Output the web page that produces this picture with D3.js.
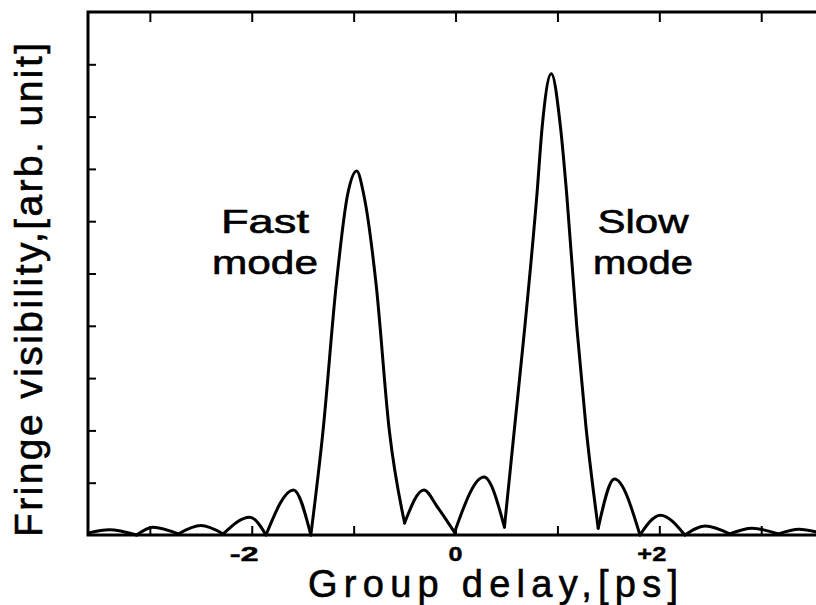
<!DOCTYPE html>
<html>
<head>
<meta charset="utf-8">
<script src="https://cdn.jsdelivr.net/npm/d3@7"></script>
<style>
  html, body { margin: 0; padding: 0; background: #fff; }
  svg { display: block; }
</style>
</head>
<body>
<script>
// trace, lobe by lobe (troughs split the lobes)
const delayPs = [-3.60, -3.40, -3.13, -2.97, -2.72, -2.50, -2.28, -2.02, -1.86, -1.59, -1.42,
  -1.30, -1.17, -1.06, -0.97, -0.90, -0.78, -0.65, -0.50, -0.31, -0.18, -0.01, 0.28, 0.48,
  0.58, 0.68, 0.80, 0.85, 0.94, 1.03, 1.09, 1.19, 1.28, 1.40, 1.56, 1.81, 2.01, 2.25, 2.45,
  2.69, 2.91, 3.17, 3.37, 3.56];
const visibility = [0.04, 0.10, 0.00, 0.15, 0.02, 0.18, 0.02, 0.34, 0.00, 0.86, 0.00,
  2.00, 4.80, 6.50, 6.96, 6.50, 4.80, 2.00, 0.23, 0.86, 0.54, 0.05, 1.11, 0.15,
  2.07, 3.98, 6.54, 7.80, 8.82, 7.80, 6.54, 3.98, 2.07, 0.13, 1.07, 0.00, 0.38, 0.00, 0.17,
  0.02, 0.13, 0.02, 0.11, 0.05];

const xTicks = [-3, -2, -1, 0, 1, 2, 3];
const xLabelValues = [-2, 0, 2];
const xLabelTexts = ['-2', '0', '+2'];
const yTicks = [1, 2, 3, 4, 5, 6, 7, 8, 9];
const modeLabels = [
  { lines: ['Fast', 'mode'], x: -1.87, lens: [88, 106] },
  { lines: ['Slow', 'mode'], x: 1.84, lens: [91, 100] }
];

const width = 816, height = 605;
const margin = { top: 12, right: -3, bottom: 70, left: 88 };

const svg = d3.select('body').append('svg')
  .attr('width', width)
  .attr('height', height)
  .attr('viewBox', `0 0 ${width} ${height}`);

const x = d3.scaleLinear()
  .domain([-3.607, 3.567])
  .range([margin.left, width - margin.right]);

const y = d3.scaleLinear()
  .domain([0, 10])
  .range([height - margin.bottom, margin.top]);

const font = '"Liberation Sans", Arial, Helvetica, sans-serif';

// axes with inward ticks, frame drawn separately
svg.append('g')
  .attr('transform', `translate(0,${y(0)})`)
  .call(d3.axisBottom(x).tickValues(xTicks).tickSizeInner(-9).tickSizeOuter(0).tickFormat(''));

svg.append('g')
  .attr('transform', `translate(0,${y(10)})`)
  .call(d3.axisTop(x).tickValues(xTicks).tickSizeInner(-10).tickSizeOuter(0).tickFormat(''));

svg.append('g')
  .attr('transform', `translate(${x.range()[0]},0)`)
  .call(d3.axisLeft(y).tickValues(yTicks).tickSizeInner(-8).tickSizeOuter(0).tickFormat(''));

svg.selectAll('.tick text').remove();
svg.selectAll('.domain').remove();
svg.selectAll('.tick line')
  .attr('stroke', '#000')
  .attr('stroke-width', 2);

// tick labels: the digit sits on the tick, the sign hangs to its left
// (the scan's digits are wide, so stretch them a bit)
svg.append('g')
  .selectAll('text')
  .data(xLabelValues)
  .enter()
  .append('text')
  .attr('x', d => x(d) + 7)
  .attr('y', 561)
  .attr('text-anchor', 'end')
  .attr('font-family', font)
  .attr('font-weight', 'bold')
  .attr('font-size', '21px')
  .attr('stroke', '#000')
  .attr('stroke-width', 0.4)
  .attr('textLength', (d, i) => xLabelTexts[i].length > 1 ? 29 : 14)
  .attr('lengthAdjust', 'spacingAndGlyphs')
  .text((d, i) => xLabelTexts[i]);

svg.append('rect')
  .attr('x', x.range()[0])
  .attr('y', y(10))
  .attr('width', x.range()[1] - x.range()[0])
  .attr('height', y(0) - y(10))
  .attr('fill', 'none')
  .attr('stroke', '#000')
  .attr('stroke-width', 3);

// split into lobes at the troughs so the cusps stay sharp
const points = delayPs.map((d, i) => [d, visibility[i]]);
const cuts = [0];
for (let i = 1; i < points.length - 1; i++) {
  if (visibility[i] <= visibility[i - 1] && visibility[i] <= visibility[i + 1]) cuts.push(i);
}
cuts.push(points.length - 1);
const lobes = d3.pairs(cuts).map(([a, b]) => points.slice(a, b + 1));

const line = d3.line()
  .x(d => x(d[0]))
  .y(d => y(d[1]))
  .curve(d3.curveMonotoneX);

svg.append('g')
  .selectAll('path')
  .data(lobes)
  .enter()
  .append('path')
  .attr('d', line)
  .attr('fill', 'none')
  .attr('stroke', '#000')
  .attr('stroke-width', 3)
  .attr('stroke-linejoin', 'round')
  .attr('stroke-linecap', 'round');

// Fast / Slow mode labels
modeLabels.forEach(m => {
  m.lines.forEach((t, i) => {
    svg.append('text')
      .attr('x', x(m.x))
      .attr('y', 233 + i * 41)
      .attr('text-anchor', 'middle')
      .attr('font-family', font)
      .attr('font-size', '33px')
      .attr('stroke', '#000')
      .attr('stroke-width', 0.6)
      .attr('textLength', m.lens[i])
      .attr('lengthAdjust', 'spacingAndGlyphs')
      .text(t);
  });
});

// axis titles
svg.append('text')
  .attr('x', 493)
  .attr('y', 597)
  .attr('text-anchor', 'middle')
  .attr('font-family', font)
  .attr('font-size', '38px')
  .attr('stroke', '#000')
  .attr('stroke-width', 0.6)
  .attr('textLength', 370)
  .attr('lengthAdjust', 'spacing')
  .text('Group delay,[ps]');

svg.append('text')
  .attr('transform', 'translate(42,290) rotate(-90)')
  .attr('text-anchor', 'middle')
  .attr('font-family', font)
  .attr('font-size', '39px')
  .attr('stroke', '#000')
  .attr('stroke-width', 0.6)
  .attr('textLength', 494)
  .attr('lengthAdjust', 'spacing')
  .text('Fringe visibility,[arb. unit]');
</script>
</body>
</html>
